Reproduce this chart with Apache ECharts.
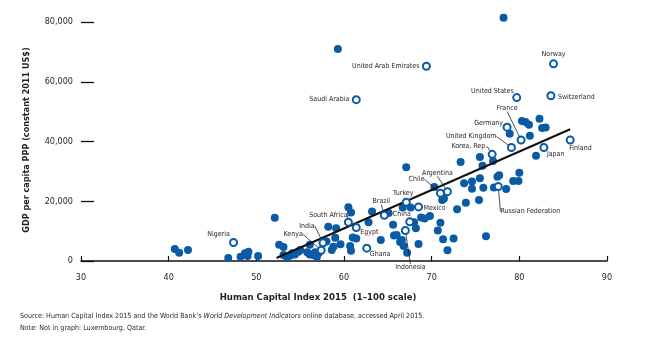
<!DOCTYPE html>
<html><head><meta charset="utf-8">
<script src="https://cdn.jsdelivr.net/npm/echarts@6/dist/echarts.min.js"></script>
<style>html,body{margin:0;padding:0;background:#fff}#c{width:665px;height:353px}</style>
</head><body><div id="c"></div>
<script>
// ---- data ----
const xTicks = [30, 40, 50, 60, 70, 80, 90];
const yTicks = [0, 20000, 40000, 60000, 80000];
const filledHCI = [78.2,59.3,80.3,80.7,81.1,82.3,82.6,83.0,78.9,81.2,81.9,77.0,75.5,80.0,79.3,79.9,77.5,77.7,75.5,75.8,73.3,67.1,73.7,74.6,74.6,75.9,77.1,78.5,75.4,73.9,70.3,71.2,71.4,72.9,66.7,67.6,69.8,69.2,68.8,68.0,68.2,71.0,70.7,71.3,72.5,71.8,76.2,66.6,66.4,66.8,67.2,68.5,65.7,66.0,65.6,64.2,65.1,63.2,62.8,60.5,60.8,61.4,61.0,60.7,60.8,58.2,59.1,59.0,58.8,58.6,58.0,59.6,52.1,52.6,53.1,53.1,53.5,53.9,54.1,54.4,54.8,55.0,55.8,56.1,56.5,56.7,57.1,56.1,40.7,41.2,42.2,46.8,48.2,48.7,49.1,49.0,50.2,56.9];
const filledGDP = [81400,71000,46900,46500,45600,47600,44500,44700,42600,41900,35200,33500,34800,29500,26800,26800,28200,28700,27700,31900,33100,31400,26000,26600,24200,24500,24600,24100,20400,19500,24800,20400,20900,17300,17900,17900,15100,14200,14600,13000,11000,12800,10200,7300,7500,3600,8300,7000,6400,5000,2800,5700,8500,8700,12100,7000,16100,16600,13000,18000,16200,7500,7900,5000,3400,11500,11000,7800,4800,3700,6500,5600,14500,5400,4700,2000,1200,1800,2600,2200,3100,3700,2900,2200,2000,2900,2600,5400,4000,2800,3700,1000,1400,2600,3100,1700,1700,1300];
const labeledCountries = ["United Arab Emirates","Norway","Saudi Arabia","United States","Switzerland","Germany","France","United Kingdom","Korea, Rep.","Japan","Finland","Chile","Argentina","Turkey","Mexico","Brazil","China","South Africa","Egypt","India","Kenya","Ghana","Indonesia","Russian Federation","Nigeria"];
const labeledHCI = [69.4,83.9,61.4,79.7,83.6,78.6,80.2,79.1,76.9,82.8,85.8,71.0,71.8,67.1,68.5,64.6,67.5,60.5,61.4,57.6,57.4,62.6,67.0,77.6,47.4];
const labeledGDP = [65200,66000,54000,54700,55300,44800,40500,38000,35700,38000,40500,22700,23200,19700,18100,15300,13100,13000,11200,6100,3600,4300,10200,24900,6200];
const trendHCI = [52.3, 85.8];
const trendGDP = [1000, 44100];

// ---- label placement (style): [dx, dy, align, leader line] ----
const labelPlace = {
  "United Arab Emirates": [-7, 0, 'right', false],
  "Norway": [0, -10, 'center', false],
  "Saudi Arabia": [-7, 0, 'right', false],
  "United States": [-3, -6, 'right', false],
  "Switzerland": [7, 1, 'left', false],
  "Germany": [-4, -4, 'right', false],
  "France": [-14, -32, 'center', true],
  "United Kingdom": [-15, -11, 'right', true],
  "Korea, Rep.": [-5, -8, 'right', true],
  "Japan": [3, 7, 'left', false],
  "Finland": [-1, 8, 'left', false],
  "Chile": [-24, -14, 'center', true],
  "Argentina": [-10, -19, 'center', true],
  "Turkey": [-3, -9, 'center', false],
  "Mexico": [5, 1, 'left', false],
  "Brazil": [-3, -14, 'center', true],
  "China": [-8, -8, 'center', false],
  "South Africa": [-20, -7, 'center', true],
  "Egypt": [4, 4.5, 'left', false],
  "India": [-16, -17, 'center', true],
  "Kenya": [-28, -16, 'center', true],
  "Ghana": [3, 6, 'left', false],
  "Indonesia": [5, 37, 'center', true],
  "Russian Federation": [32, 25, 'center', true],
  "Nigeria": [-15, -8, 'center', false]
};

const BLUE = '#0b5aa6';
const INK = '#231f20';
const NARROW = '"Liberation Sans Narrow","Arial Narrow","DejaVu Sans Condensed",sans-serif';

const filledData = filledHCI.map((x, i) => [x, filledGDP[i]]);
const openData = labeledCountries.map((n, i) => ({
  name: n,
  value: [labeledHCI[i], labeledGDP[i]],
  labelLine: { show: labelPlace[n][3] }
}));

const chart = echarts.init(document.getElementById('c'), null, { renderer: 'canvas' });
chart.setOption({
  animation: false,
  backgroundColor: '#fff',
  textStyle: { fontFamily: NARROW },
  grid: { left: 81, right: 58, top: 22, bottom: 92, containLabel: false },
  xAxis: {
    type: 'value', min: xTicks[0], max: xTicks[xTicks.length - 1], interval: 10,
    axisLine: { show: true, lineStyle: { color: '#111', width: 1.5 } },
    axisTick: { show: true, inside: true, length: 5, lineStyle: { color: '#111', width: 1.2 } },
    axisLabel: { color: INK, fontSize: 9, fontFamily: NARROW, margin: 12 },
    splitLine: { show: false }
  },
  yAxis: {
    type: 'value', min: yTicks[0], max: yTicks[yTicks.length - 1], interval: 20000,
    axisLine: { show: false },
    axisTick: { show: true, inside: true, length: 13, lineStyle: { color: '#111', width: 1.3 } },
    axisLabel: { color: INK, fontSize: 9, fontFamily: NARROW, margin: 8,
      formatter: v => v.toLocaleString('en-US') },
    splitLine: { show: false }
  },
  series: [
    {
      type: 'scatter', data: filledData, symbolSize: 8, z: 2, clip: false,
      itemStyle: { color: BLUE, opacity: 1 }
    },
    {
      type: 'line', data: trendHCI.map((x, i) => [x, trendGDP[i]]), z: 3,
      symbol: 'none', lineStyle: { color: '#111', width: 2 }
    },
    {
      type: 'scatter', data: openData, symbolSize: 7, z: 4, clip: false,
      itemStyle: { color: '#fff', borderColor: BLUE, borderWidth: 2, opacity: 1 },
      label: {
        show: true, formatter: p => p.name, fontSize: 7, color: INK,
        fontFamily: NARROW, position: 'inside'
      },
      labelLine: { show: true, lineStyle: { color: '#222', width: 0.8 } },
      labelLayout: function (p) {
        const s = labelPlace[labeledCountries[p.dataIndex]];
        const cx = p.rect.x + p.rect.width / 2, cy = p.rect.y + p.rect.height / 2;
        return { x: cx + s[0], y: cy + s[1], align: s[2], verticalAlign: 'middle' };
      }
    }
  ],
  graphic: [
    { type: 'text', x: 318, y: 298, style: { text: 'Human Capital Index 2015  (1\u2013100 scale)', font: 'bold 9.5px ' + NARROW, fill: INK, align: 'center', verticalAlign: 'middle' } },
    { type: 'text', x: 27, y: 140, rotation: Math.PI / 2, style: { text: 'GDP per capita PPP (constant 2011 US$)', font: 'bold 9px ' + NARROW, fill: INK, align: 'center', verticalAlign: 'middle' } },
    { type: 'text', left: 20, top: 313, style: {
      text: "{n|Source: Human Capital Index 2015 and the World Bank\u2019s }{i|World Development Indicators}{n| online database, accessed April 2015.}",
      rich: { n: { font: '7.1px ' + NARROW, fill: INK }, i: { font: 'italic 7.1px ' + NARROW, fill: INK } } } },
    { type: 'text', left: 20, top: 325, style: { text: 'Note: Not in graph: Luxembourg, Qatar.', font: '7.1px ' + NARROW, fill: INK } }
  ]
});
</script></body></html>
